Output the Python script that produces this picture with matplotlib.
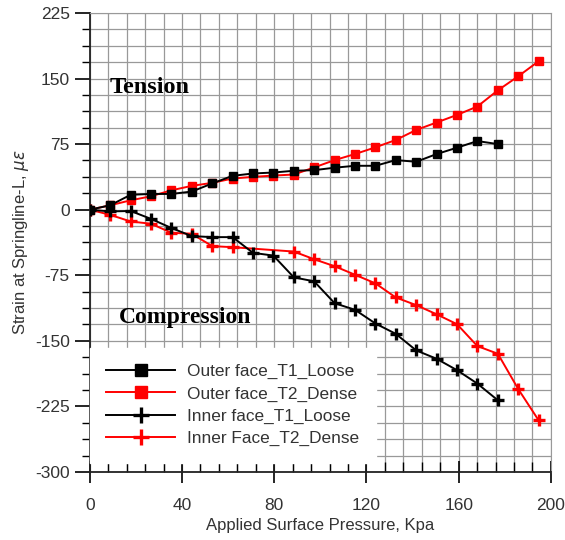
import matplotlib
matplotlib.use("Agg")
import matplotlib.pyplot as plt
from matplotlib.ticker import MultipleLocator

# applied surface pressure, kPa
pressure = [0, 8.8, 17.7, 26.5, 35.4, 44.2, 53.1, 61.9, 70.8, 79.6, 88.5, 97.3,
            106.2, 115.0, 123.9, 132.7, 141.6, 150.4, 159.3, 168.1, 177.0, 185.8, 194.7]

# strain readings (micro-strain)
outer_t1_loose = [0, 5, 17, 18, 18, 20.7, 30, 38.7, 41.4, 42.5, 44.5, 45.2,
                  48, 50.2, 50.2, 56.7, 54.8, 63.6, 70.9, 78.5, 75]
outer_t2_dense = [0, 5, 10.7, 15.3, 22.2, 27.2, 30.7, 35.6, 37.5, 39, 40.2, 48.3,
                  56.7, 63.6, 71.3, 79.7, 91.2, 99.7, 108.4, 118, 136.5, 152.5, 169.8]
inner_t1_loose = [0, -2, -1.5, -10.5, -21, -30.2, -31.4, -31.4, -49.4, -52.5, -77.4, -82,
                  -107, -114.5, -130.2, -142, -161, -170.5, -183.6, -198.9, -218]
inner_t2_dense = [0, -5.9, -13.5, -16.1, -26.4, -27.6, -41.7, -42.9, -47.9, -56.7,
                  -64.7, -74.4, -84.3, -100.4, -109.2, -119.6, -131, -156, -164.8, -205, -241]
# the dense inner face has no readings at 70.8 and 79.6 kPa
inner_t2_x = pressure[:8] + pressure[10:]

plt.rcParams['font.family'] = ['Liberation Sans', 'DejaVu Sans']
plt.rcParams['axes.unicode_minus'] = False

fig = plt.figure(figsize=(5.65, 5.4), dpi=100)
ax = fig.add_axes([0.159, 0.126, 0.816, 0.85])

ax.plot(pressure[:len(outer_t1_loose)], outer_t1_loose, color='black', lw=1.4,
        marker='s', ms=6, label='Outer face_T1_Loose', zorder=4)
ax.plot(pressure, outer_t2_dense, color='red', lw=1.4,
        marker='s', ms=6, label='Outer face_T2_Dense', zorder=3)
ax.plot(pressure[:len(inner_t1_loose)], inner_t1_loose, color='black', lw=1.4,
        marker='+', ms=8, mew=2.4, label='Inner face_T1_Loose', zorder=4)
ax.plot(inner_t2_x, inner_t2_dense, color='red', lw=1.4,
        marker='+', ms=8, mew=2.4, label='Inner Face_T2_Dense', zorder=3)

ax.set_xlim(0, 200)
ax.set_ylim(-300, 225)
ax.xaxis.set_major_locator(MultipleLocator(40))
ax.xaxis.set_minor_locator(MultipleLocator(8))
ax.yaxis.set_major_locator(MultipleLocator(75))
ax.yaxis.set_minor_locator(MultipleLocator(18.75))
ax.grid(which='both', color='#999999', lw=0.9)
ax.set_axisbelow(True)

for side in ['top', 'right']:
    ax.spines[side].set_color('#999999')
for side in ['left', 'bottom']:
    ax.spines[side].set_color('#222222')
    ax.spines[side].set_linewidth(1.3)

ax.tick_params(axis='y', which='major', direction='out', length=11, width=1.2,
               labelsize=12.5, labelcolor='#333333')
ax.tick_params(axis='y', which='minor', direction='out', length=6, width=1.0)
ax.tick_params(axis='x', which='major', direction='inout', length=16, width=1.2,
               labelsize=12.5, labelcolor='#333333', pad=11)
ax.tick_params(axis='x', which='minor', direction='in', length=7, width=1.0)

ax.set_xlabel('Applied Surface Pressure, Kpa', fontsize=12, color='#333333', labelpad=3)
ax.set_ylabel(r'Strain at Springline-L, $\mu\varepsilon$', fontsize=12,
              color='#333333', labelpad=3)

ax.text(8.7, 140, 'Tension', family='Liberation Serif', weight='bold',
        fontsize=17.5, va='center', ha='left')
ax.text(12.6, -123, 'Compression', family='Liberation Serif', weight='bold',
        fontsize=17, va='center', ha='left')

leg = ax.legend(loc='lower left', bbox_to_anchor=(0.0, 0.02), borderaxespad=0,
                fontsize=12.4, handlelength=4.0, markerscale=1.4, fancybox=False,
                framealpha=1, edgecolor='white', labelspacing=0.42,
                borderpad=0.95, handletextpad=0.7)
for t in leg.get_texts():
    t.set_color('#333333')

fig.savefig('out.png', dpi=100)
